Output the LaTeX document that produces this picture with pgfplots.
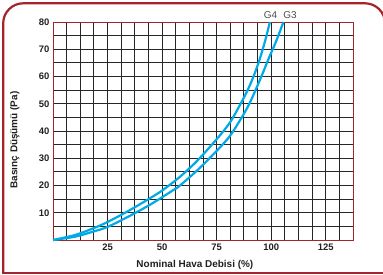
\documentclass[border=0pt]{standalone}
\usepackage{fontspec}
\setmainfont{Liberation Sans}
\usepackage{pgfplots}
\pgfplotsset{compat=1.18}
\definecolor{framered}{RGB}{165,35,42}
\definecolor{curveblue}{RGB}{0,170,230}
\definecolor{txt}{RGB}{35,31,32}
\begin{document}
\begin{tikzpicture}[x=1bp,y=1bp]
\useasboundingbox (0,0) rectangle (383,275);
\draw[framered, line width=2.2bp, rounded corners=20bp] (3.2,1.7) -- (3.2,271.7) -- (385,271.7) -- (385,1.7);
\draw[framered, line width=2.2bp] (2.1,1.7) -- (390,1.7);
\begin{axis}[
  at={(53bp,35bp)}, anchor=south west, scale only axis,
  width=300bp, height=218bp,
  xmin=0, xmax=137.5, ymin=0, ymax=80,
  xtick={25,50,75,100,125}, ytick={10,20,30,40,50,60,70,80},
  minor xtick={6.25,12.5,18.75,31.25,37.5,43.75,56.25,62.5,68.75,81.25,87.5,93.75,106.25,112.5,118.75,131.25},
  minor ytick={5,15,25,35,45,55,65,75},
  grid=both,
  major grid style={black!85, line width=1bp},
  minor grid style={black!85, line width=1bp},
  axis line style={framered, line width=1bp},
  major tick length=0pt, minor tick length=0pt,
  /pgf/number format/assume math mode=true,
  ticklabel style={font=\fontsize{9.5}{10}\selectfont\bfseries, text=txt},
  xlabel={Nominal Hava Debisi (\%)},
  ylabel={Basınç Düşümü (Pa)},
  label style={font=\fontsize{10}{12}\selectfont\bfseries, text=txt},
  xlabel style={at={(axis description cs:0.473,-0.115)}, anchor=center},
  ylabel style={at={(axis description cs:-0.127,0.459)}, anchor=center},
  clip=false,
]
\addplot[curveblue, line width=2.2bp, smooth] coordinates {
(0,0) (10,1.8) (18.5,4.3) (25,6.6) (35.3,11) (45,15.6) (50.3,18.3) (58.2,23.2) (66,29) (74.7,36.7) (81,43) (86,50) (89.2,55) (91.9,60) (94.6,66) (97.2,73) (99.4,80)};
\addplot[curveblue, line width=2.2bp, smooth] coordinates {
(0,0) (10,1.2) (18.5,3.1) (25,4.8) (35.3,8.9) (45,13.2) (55.1,18.3) (58.2,20) (68,27) (79.6,36.7) (85,43) (90,50) (95.5,60) (98.8,66.5) (102.3,73) (105.6,80)};
\node[font=\fontsize{10}{11}\selectfont, text=black!70] at (axis cs:99.7,82.5) {G4};
\node[font=\fontsize{10}{11}\selectfont, text=black!70] at (axis cs:108.6,82.5) {G3};
\end{axis}
\end{tikzpicture}
\end{document}
